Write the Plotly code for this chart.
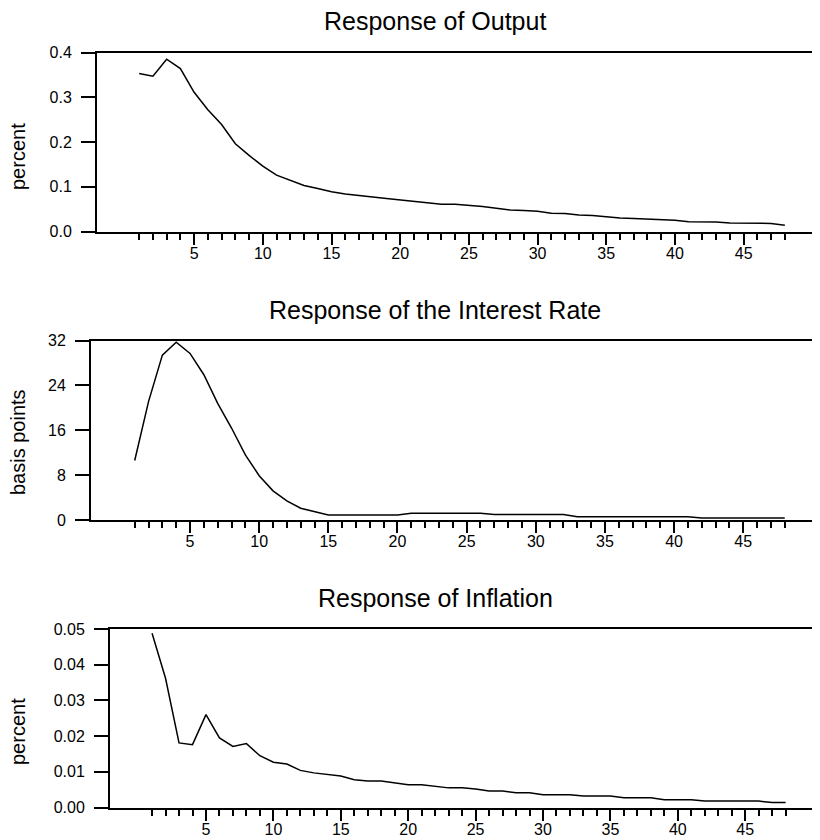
import plotly.graph_objects as go

periods = list(range(1, 49))

output_resp = [0.353, 0.347, 0.385, 0.364, 0.311, 0.272, 0.239, 0.196, 0.170, 0.146,
               0.126, 0.114, 0.103, 0.096, 0.089, 0.084, 0.080, 0.077, 0.074, 0.071,
               0.068, 0.065, 0.061, 0.061, 0.059, 0.056, 0.052, 0.048, 0.047, 0.045,
               0.041, 0.040, 0.037, 0.036, 0.033, 0.030, 0.029, 0.028, 0.026, 0.025,
               0.022, 0.022, 0.021, 0.019, 0.019, 0.019, 0.018, 0.014]

rate_resp = [10.6, 21.1, 29.4, 31.7, 29.7, 25.9, 20.8, 16.4, 11.6, 7.9,
             5.2, 3.4, 2.1, 1.5, 0.9, 0.9, 0.9, 0.9, 0.9, 0.9,
             1.2, 1.2, 1.2, 1.2, 1.2, 1.2, 1.0, 1.0, 1.0, 1.0,
             1.0, 1.0, 0.6, 0.6, 0.6, 0.6, 0.6, 0.6, 0.6, 0.6,
             0.6, 0.35, 0.35, 0.35, 0.35, 0.35, 0.35, 0.35]

infl_resp = [0.0488, 0.0362, 0.0181, 0.0176, 0.0260, 0.0195, 0.0171, 0.0179, 0.0145, 0.0127,
             0.0122, 0.0104, 0.0097, 0.0092, 0.0088, 0.0078, 0.0074, 0.0074, 0.0069, 0.0064,
             0.0064, 0.0060, 0.0055, 0.0055, 0.0052, 0.0046, 0.0046, 0.0041, 0.0041, 0.0036,
             0.0036, 0.0036, 0.0032, 0.0032, 0.0032, 0.0027, 0.0027, 0.0027, 0.0022, 0.0022,
             0.0022, 0.0018, 0.0018, 0.0018, 0.0018, 0.0018, 0.0014, 0.0014]

titles = ["Response of Output", "Response of the Interest Rate", "Response of Inflation"]
ytitles = ["percent", "basis points", "percent"]
major_ticks = [5, 10, 15, 20, 25, 30, 35, 40, 45]

# page body adds an 8px margin; lay the figure out in window pixels
OFF = 8
W, H = 820 - OFF, 840 - OFF
FONT = "Liberation Sans, Arial, sans-serif"


def px_x(X):
    return (X - OFF) / W


def px_y(Y):
    return 1 - (Y - OFF) / H


panels = [
    dict(left=97, top=52.5, bottom=231.5, xr=[-2.07, 50.56], yr=[0, 0.4],
         yt=[0, 0.1, 0.2, 0.3, 0.4], fmt=".1f", ytitle_y=157, title_y=21),
    dict(left=91, top=340.5, bottom=520, xr=[-2.16, 50.55], yr=[0, 32],
         yt=[0, 8, 16, 24, 32], fmt="d", ytitle_y=442, title_y=310),
    dict(left=110, top=629, bottom=807.5, xr=[-2.12, 50.55], yr=[0, 0.05],
         yt=[0, 0.01, 0.02, 0.03, 0.04, 0.05], fmt=".2f", ytitle_y=732, title_y=598),
]
series = [output_resp, rate_resp, infl_resp]

fig = go.Figure()
annotations = []
for i, (p, ys) in enumerate(zip(panels, series)):
    n = "" if i == 0 else str(i + 1)
    fig.add_trace(go.Scatter(x=periods, y=ys, mode="lines",
                             line=dict(color="black", width=1.5),
                             xaxis="x" + n, yaxis="y" + n, showlegend=False,
                             hoverinfo="skip"))
    xdom = [px_x(p["left"]), 1]
    ydom = [px_y(p["bottom"]), px_y(p["top"])]
    fig.layout["xaxis" + n] = dict(
        domain=xdom, range=p["xr"], anchor="y" + n,
        showline=True, linecolor="black", linewidth=2, mirror=True,
        showgrid=False, zeroline=False,
        tickmode="array", tickvals=major_ticks, ticks="outside",
        ticklen=11, tickwidth=2, tickcolor="black",
        ticklabelstandoff=-5,
        minor=dict(tickmode="array", tickvals=periods, ticks="outside",
                   ticklen=6, tickwidth=2, tickcolor="black", showgrid=False),
        tickfont=dict(family=FONT, size=16, color="black"),
        automargin=False, fixedrange=True,
    )
    fig.layout["yaxis" + n] = dict(
        domain=ydom, range=p["yr"], anchor="x" + n,
        showline=True, linecolor="black", linewidth=2, mirror=False,
        showgrid=False, zeroline=False,
        tickmode="array", tickvals=p["yt"], tickformat=p["fmt"],
        ticks="outside", ticklen=14, tickwidth=2, tickcolor="black",
        ticklabelstandoff=6,
        tickfont=dict(family=FONT, size=16, color="black"),
        automargin=False, fixedrange=True,
    )
    annotations.append(dict(text=titles[i], x=px_x(435), y=px_y(p["title_y"]),
                            xref="paper", yref="paper", showarrow=False,
                            xanchor="center", yanchor="middle",
                            font=dict(family=FONT, size=25, color="black")))
    annotations.append(dict(text=ytitles[i], x=px_x(18), y=px_y(p["ytitle_y"]),
                            xref="paper", yref="paper", showarrow=False,
                            xanchor="center", yanchor="middle", textangle=-90,
                            font=dict(family=FONT, size=20, color="black")))

fig.update_layout(width=W, height=H, margin=dict(l=0, r=0, t=0, b=0),
                  paper_bgcolor="white", plot_bgcolor="white",
                  annotations=annotations)

fig.write_html("out.html")
